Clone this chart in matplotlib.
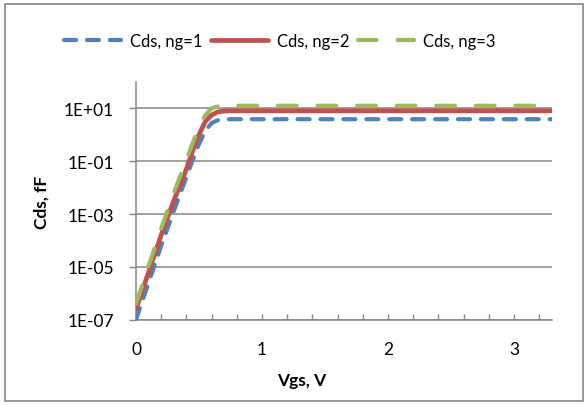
import math
import matplotlib
matplotlib.use('Agg')
import matplotlib.pyplot as plt
from matplotlib.ticker import FixedLocator, FuncFormatter, MultipleLocator
from matplotlib.patches import Rectangle

plt.rcParams['font.family'] = ['Lato', 'DejaVu Sans']

# Данные (Vgs, В; Cds, фФ)
vgs = [0.0, 0.1, 0.2, 0.3, 0.4, 0.45, 0.5, 0.55, 0.6, 0.65, 0.7, 0.75,
       0.8, 1.0, 1.5, 2.0, 2.5, 3.0, 3.3]
cds_ng1 = [1.0e-7, 2.5e-6, 6.3e-5, 1.3e-3, 2.5e-2, 0.11, 0.45, 1.4, 2.8, 3.6,
           3.85, 3.9, 3.9, 3.9, 3.9, 3.9, 3.9, 3.9, 3.9]
cds_ng2 = [2.5e-7, 6.3e-6, 1.6e-4, 3.2e-3, 5.0e-2, 0.25, 1.0, 3.2, 5.6, 7.4,
           7.9, 8.1, 8.1, 8.1, 8.1, 8.1, 8.1, 8.1, 8.1]
cds_ng3 = [4.0e-7, 1.1e-5, 2.8e-4, 6.3e-3, 0.11, 0.5, 2.0, 5.6, 10.0, 12.0,
           12.5, 12.6, 12.6, 12.6, 12.6, 12.6, 12.6, 12.6, 12.6]
labels = ['Cds, ng=1', 'Cds, ng=2', 'Cds, ng=3']
y_ticks = [1e-7, 1e-5, 1e-3, 1e-1, 1e1]

c_blue = '#4F81BD'
c_red = '#C0504D'
c_green = '#9BBB59'
c_grid = '#868686'

fig = plt.figure(figsize=(5.88, 4.06), dpi=100)
ax = fig.add_axes([0.2313, 0.2101, 0.7070, 0.5855])

l1, = ax.plot(vgs, cds_ng1, color=c_blue, lw=3, dashes=(2.9, 2.6),
              dash_capstyle='round', label=labels[0], zorder=3)
l2, = ax.plot(vgs, cds_ng2, color=c_red, lw=3.4, solid_capstyle='round',
              label=labels[1], zorder=4)
l3, = ax.plot(vgs, cds_ng3, color=c_green, lw=3, dashes=(4.5, 5.0),
              dash_capstyle='round', label=labels[2], zorder=5)

ax.set_yscale('log')
ax.set_ylim(1e-7, 1e2)
ax.set_xlim(0, 3.3)
ax.yaxis.set_major_locator(FixedLocator(y_ticks))
ax.yaxis.set_minor_locator(FixedLocator([]))
ax.yaxis.set_major_formatter(FuncFormatter(
    lambda v, p: '1E%+03d' % round(math.log10(v))))
ax.xaxis.set_major_locator(MultipleLocator(1))
ax.xaxis.set_minor_locator(MultipleLocator(0.2))

ax.grid(True, axis='y', which='major', color=c_grid, lw=1.1)
ax.set_axisbelow(True)
for s in ['top', 'right']:
    ax.spines[s].set_visible(False)
for s in ['left', 'bottom']:
    ax.spines[s].set_color(c_grid)
    ax.spines[s].set_linewidth(1.1)

ax.tick_params(axis='y', which='major', direction='out', length=5, width=1,
               color=c_grid, labelsize=12.5, pad=11)
ax.tick_params(axis='x', which='both', direction='in', length=4, width=1,
               color=c_grid, labelsize=12.5, pad=15)

fig.text(42 / 588, 1 - 202 / 406, 'Cds, fF', rotation=90, fontsize=12.5,
         fontweight='bold', ha='center', va='center')
fig.text(302 / 588, 1 - 381 / 406, 'Vgs, V', fontsize=12.5,
         fontweight='bold', ha='center', va='center')

fig.legend(handles=[l1, l2, l3], loc='center', bbox_to_anchor=(280 / 588, 1 - 42 / 406),
           ncol=3, frameon=False, fontsize=12, handlelength=3.4,
           columnspacing=0.5, handletextpad=0.55)

fig.patches.append(Rectangle((5 / 588, 4 / 406), 578 / 588, 397 / 406,
                             transform=fig.transFigure, fill=False,
                             edgecolor=c_grid, lw=1.2))

fig.savefig('out.png', dpi=100)
